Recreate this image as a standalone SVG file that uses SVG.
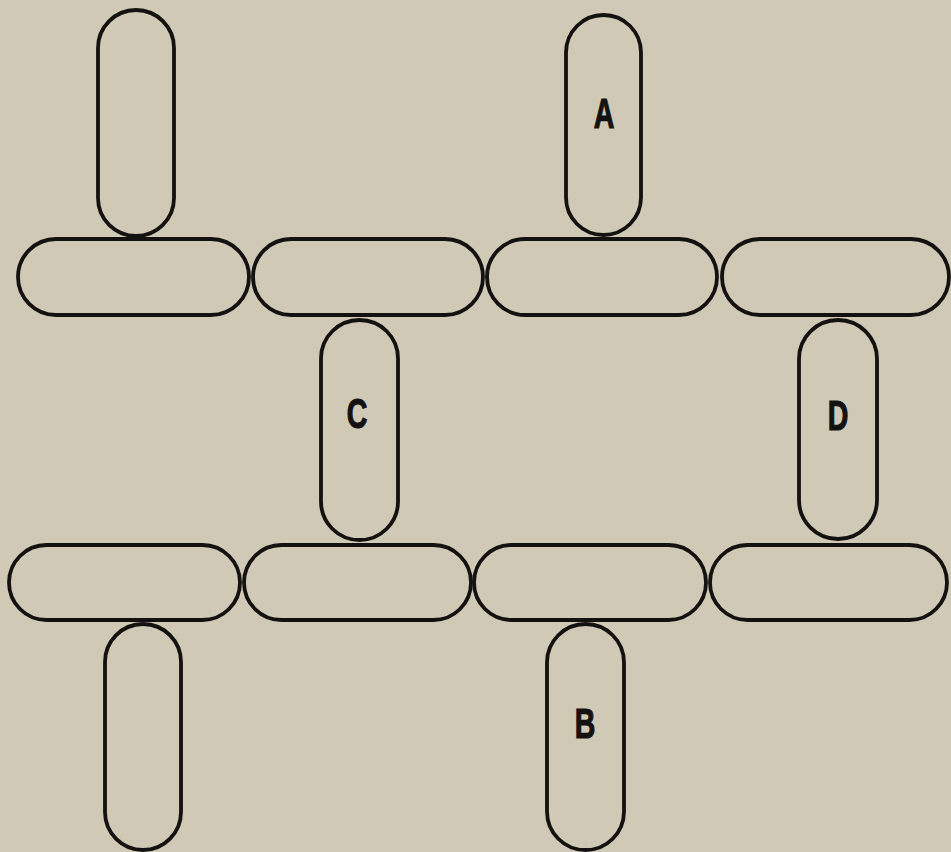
<svg xmlns="http://www.w3.org/2000/svg" width="951" height="852" viewBox="0 0 951 852">
<style>
.pill{fill:none;stroke:#141210;stroke-width:3.8}
.lbl{font-family:"Liberation Sans","DejaVu Sans",sans-serif;font-weight:bold;font-size:42px;fill:#141210;stroke:#141210;stroke-width:1.2;text-anchor:middle}
</style>
<rect x="0" y="0" width="951" height="852" fill="#cfc9b5"/>
<g id="v-top-left"><rect class="pill" x="98" y="10" width="76" height="226" rx="38"/></g>
<g id="node-A"><rect class="pill" x="566" y="15" width="75" height="220" rx="37.5"/><text class="lbl" transform="translate(604,128) scale(0.68,1)">A</text></g>
<g id="h-top-1"><rect class="pill" x="18" y="239" width="231" height="76" rx="38"/></g>
<g id="h-top-2"><rect class="pill" x="253" y="239" width="230" height="76" rx="38"/></g>
<g id="h-top-3"><rect class="pill" x="487" y="239" width="230" height="76" rx="38"/></g>
<g id="h-top-4"><rect class="pill" x="722" y="239" width="227" height="76" rx="38"/></g>
<g id="node-C"><rect class="pill" x="321" y="320" width="77" height="220" rx="38.5"/><text class="lbl" transform="translate(357,428) scale(0.68,1)">C</text></g>
<g id="node-D"><rect class="pill" x="799" y="320" width="78" height="219" rx="39"/><text class="lbl" transform="translate(838,430) scale(0.68,1)">D</text></g>
<g id="h-bot-1"><rect class="pill" x="9" y="545" width="231" height="75" rx="37.5"/></g>
<g id="h-bot-2"><rect class="pill" x="244" y="545" width="227" height="75" rx="37.5"/></g>
<g id="h-bot-3"><rect class="pill" x="474" y="545" width="232" height="75" rx="37.5"/></g>
<g id="h-bot-4"><rect class="pill" x="710" y="545" width="237" height="75" rx="37.5"/></g>
<g id="v-bot-left"><rect class="pill" x="105" y="624" width="76" height="226" rx="38"/></g>
<g id="node-B"><rect class="pill" x="547" y="624" width="77" height="226" rx="38.5"/><text class="lbl" transform="translate(585,738) scale(0.68,1)">B</text></g>
<g id="connectors"></g>
</svg>
